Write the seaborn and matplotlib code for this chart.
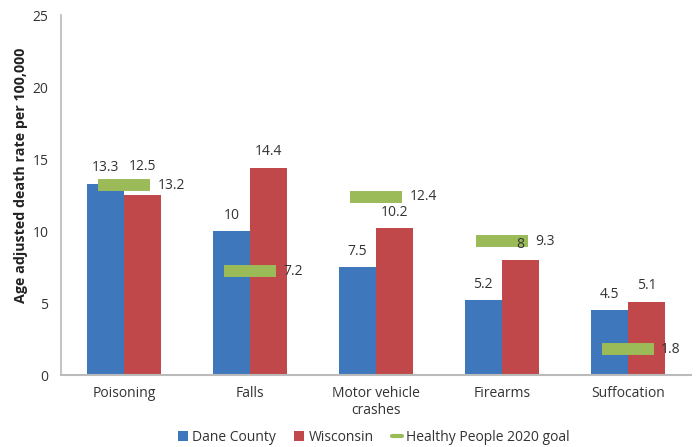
import numpy as np
import pandas as pd
import matplotlib
matplotlib.use("Agg")
import matplotlib.pyplot as plt
import seaborn as sns
from matplotlib.patches import Patch
from matplotlib.lines import Line2D

categories = ["Poisoning", "Falls", "Motor vehicle\ncrashes", "Firearms", "Suffocation"]
dane_county = [13.3, 10, 7.5, 5.2, 4.5]
wisconsin = [12.5, 14.4, 10.2, 8, 5.1]
hp2020_goal = [13.2, 7.2, 12.4, 9.3, 1.8]
series_names = ["Dane County", "Wisconsin", "Healthy People 2020 goal"]
yticks = [0, 5, 10, 15, 20, 25]

sns.set_theme(style="white")
plt.rcParams["font.family"] = ["Open Sans", "DejaVu Sans"]

BLUE = "#3F77BC"
RED = "#C0474A"
GREEN = "#9BBB59"
TXT = "#333333"

df = pd.DataFrame({
    "category": categories * 2,
    "rate": dane_county + wisconsin,
    "series": [series_names[0]] * len(categories) + [series_names[1]] * len(categories),
})

fig = plt.figure(figsize=(6.96, 4.47), dpi=100)
ax = fig.add_axes([0.0876, 0.161, 0.905, 0.805])

sns.barplot(data=df, x="category", y="rate", hue="series", order=categories,
            hue_order=series_names[:2], palette=[BLUE, RED], width=0.59,
            saturation=1, legend=False, ax=ax, linewidth=0)

xpos = np.arange(len(categories))
ax.plot(xpos, hp2020_goal, linestyle="none", marker="_", markersize=38,
        markeredgewidth=8.6, color=GREEN, zorder=3)

# value labels
half = 0.59 / 4
for i in range(len(categories)):
    d_off = 6
    w_off = 6
    if i == 0:
        w_off = 15
    ax.annotate(f"{dane_county[i]:g}", (xpos[i] - half, dane_county[i]),
                xytext=(0, d_off), textcoords="offset points", ha="center",
                va="bottom", fontsize=10, color=TXT)
    ax.annotate(f"{wisconsin[i]:g}", (xpos[i] + half, wisconsin[i]),
                xytext=(0, w_off), textcoords="offset points", ha="center",
                va="bottom", fontsize=10, color=TXT)
    ax.annotate(f"{hp2020_goal[i]:g}", (xpos[i] + 0.21, hp2020_goal[i]),
                xytext=(5, 0), textcoords="offset points", ha="left",
                va="center", fontsize=10, color=TXT)

ax.set_xlim(-0.5, len(categories) - 0.5)
ax.set_ylim(0, 25)
ax.set_yticks(yticks)
ax.set_xlabel("")
ax.set_ylabel("Age adjusted death rate per 100,000", fontsize=10.3,
              fontweight="bold", color="#222222")
ax.yaxis.set_label_coords(-0.052, 0.556)
ax.tick_params(axis="both", length=0, labelsize=10, colors=TXT)
ax.tick_params(axis="y", pad=9)
ax.tick_params(axis="x", pad=8)
for s in ["top", "right"]:
    ax.spines[s].set_visible(False)
ax.spines["left"].set_color("#BBBBBB")
ax.spines["bottom"].set_color("#BBBBBB")
ax.spines["bottom"].set_linewidth(1.5)

handles = [
    Patch(facecolor=BLUE, edgecolor="none", label=series_names[0]),
    Patch(facecolor=RED, edgecolor="none", label=series_names[1]),
    Line2D([0], [0], color=GREEN, lw=3, label=series_names[2]),
]
fig.legend(handles=handles, loc="center", ncol=3, frameon=False,
           bbox_to_anchor=(0.537, 0.022), fontsize=10, handlelength=0.75,
           handleheight=0.75, handletextpad=0.3, columnspacing=1.3,
           labelcolor=TXT)

fig.savefig("out.png", dpi=100)
